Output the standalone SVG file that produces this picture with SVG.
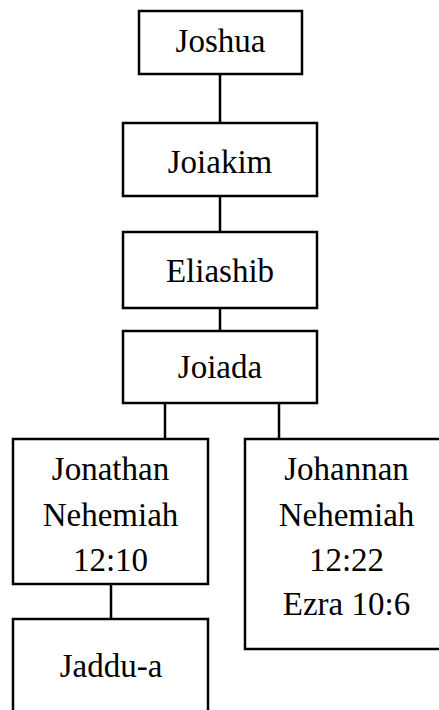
<svg xmlns="http://www.w3.org/2000/svg" width="439" height="710" viewBox="0 0 439 710">
<style>
.box{fill:#fff;stroke:#000;stroke-width:2.5}
.t{font-family:'Liberation Serif','Times New Roman',serif;font-size:33px;fill:#000;text-anchor:middle}
.c{stroke:#000;stroke-width:2.5;fill:none}
</style>
<rect width="439" height="710" fill="#fff"/>
<g id="connectors">
<line class="c" x1="220" y1="74" x2="220" y2="123"/>
<line class="c" x1="220" y1="196" x2="220" y2="232"/>
<line class="c" x1="220" y1="308" x2="220" y2="331"/>
<line class="c" x1="165" y1="403" x2="165" y2="439"/>
<line class="c" x1="279" y1="403" x2="279" y2="439"/>
<line class="c" x1="111" y1="584" x2="111" y2="619"/>
</g>
<g id="joshua"><rect class="box" x="139" y="11" width="163" height="63"/><text class="t" x="220.5" y="52">Joshua</text></g>
<g id="joiakim"><rect class="box" x="123" y="123" width="194" height="73"/><text class="t" x="220" y="173">Joiakim</text></g>
<g id="eliashib"><rect class="box" x="123" y="232" width="194" height="76"/><text class="t" x="220" y="282">Eliashib</text></g>
<g id="joiada"><rect class="box" x="123" y="331" width="194" height="72"/><text class="t" x="220" y="378">Joiada</text></g>
<g id="jonathan"><rect class="box" x="13" y="439" width="195" height="145"/><text class="t" x="110.5" y="480">Jonathan</text><text class="t" x="110.5" y="526">Nehemiah</text><text class="t" x="110.5" y="571">12:10</text></g>
<g id="johannan"><rect class="box" x="245" y="439" width="210" height="210"/><text class="t" x="346.5" y="480">Johannan</text><text class="t" x="346.5" y="526">Nehemiah</text><text class="t" x="346.5" y="571">12:22</text><text class="t" x="346.5" y="615">Ezra 10:6</text></g>
<g id="jaddua"><rect class="box" x="13" y="619" width="195" height="110"/><text class="t" x="111" y="677">Jaddu-a</text></g>
</svg>
